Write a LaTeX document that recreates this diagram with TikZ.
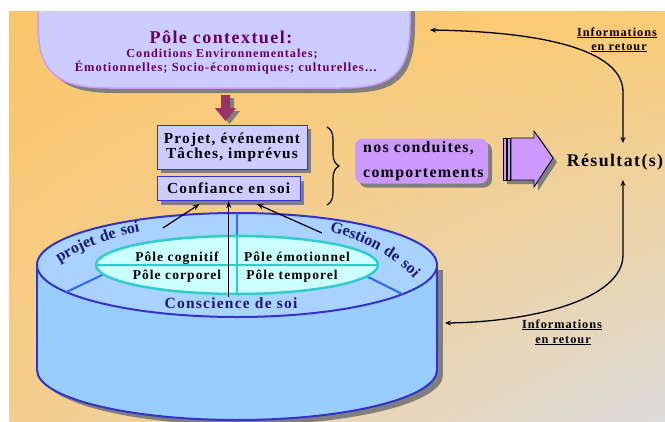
\documentclass[tikz,border=0pt]{standalone}
\usepackage{fontspec}
\setmainfont{Liberation Serif}[LetterSpace=8]
\usetikzlibrary{shapes.geometric,shadows,shadings,decorations.text,decorations.pathreplacing,arrows.meta,calc}
\definecolor{bgA}{HTML}{FBC66B}
\definecolor{bgB}{HTML}{FBCB74}
\definecolor{bgC}{HTML}{F5CD8C}
\definecolor{bgD}{HTML}{DCDCDC}
\definecolor{lav}{HTML}{CCCCFF}
\definecolor{lavborder}{HTML}{CC99FF}
\definecolor{plum}{HTML}{660066}
\definecolor{maroon}{HTML}{993366}
\definecolor{boxblue}{HTML}{3333CC}
\definecolor{violet}{HTML}{CC99FF}
\definecolor{shgray}{HTML}{7F7F7F}
\definecolor{cyltop}{HTML}{A9D2FF}
\definecolor{cylside}{HTML}{99CCFF}
\definecolor{ringblue}{HTML}{3366FF}
\definecolor{innerfill}{HTML}{CCFFFF}
\definecolor{turq}{HTML}{33CCCC}
\definecolor{navy}{HTML}{1A1A75}
\tikzset{
  box/.style={draw=boxblue, line width=1pt, fill=lav, inner sep=0pt, align=center,
    general shadow={fill=shgray, shadow xshift=4pt, shadow yshift=-4pt},
    font=\bfseries\fontsize{15.3}{15}\selectfont},
  poletext/.style={font=\bfseries\fontsize{13.5}{15}\selectfont, inner sep=0pt, anchor=base},
  arr/.style={line width=1.2pt, -{Stealth[length=7pt,width=5pt]}},
  fb/.style={line width=1.3pt, {Stealth[length=6pt,width=5pt]}-{Stealth[length=6pt,width=5pt]}},
  fblabel/.style={font=\bfseries\fontsize{12.3}{14}\selectfont, align=center, inner sep=0pt, anchor=base},
  navylabel/.style={text=navy, font=\bfseries\fontsize{15.5}{17}\selectfont, inner sep=0pt, anchor=base},
  plumtext/.style={text=plum, inner sep=0pt, anchor=base},
}
\begin{document}
\begin{tikzpicture}[x=1pt,y=-1pt]
\useasboundingbox (0,0) rectangle (665,421);
% background
\shade[upper left=bgA, upper right=bgB, lower left=bgC, lower right=bgD] (9,11) rectangle (665,421);

% pole contextuel shape with shadow
\begin{scope}
\clip (0,11) rectangle (665,421);
\fill[shgray] (43,0) -- (43,25) .. controls (43,80) and (65,93) .. (115,93) -- (345,93) .. controls (395,93) and (415,80) .. (415,25) -- (415,0) -- cycle;
\filldraw[fill=lav, draw=lavborder, line width=1.5pt] (38,0) -- (38,25) .. controls (38,75) and (60,88) .. (110,88) -- (340,88) .. controls (390,88) and (410,75) .. (410,25) -- (410,0) -- cycle;
\end{scope}
\node[plumtext, font=\bfseries\fontsize{18}{20}\selectfont] (pole1) at (221,43) {Pôle contextuel:};
\node[plumtext, font=\bfseries\fontsize{12.2}{14}\selectfont] (pole2) at (222,57) {Conditions Environnementales;};
\node[plumtext, font=\bfseries\fontsize{12.5}{14}\selectfont] (pole3) at (226,71.5) {Émotionnelles; Socio-économiques; culturelles…};

% down block arrow
\fill[shgray] (225,98) -- (234,98) -- (234,111) -- (240,111) -- (229.5,124) -- (219,111) -- (225,111) -- cycle;
\fill[maroon] (221,95) -- (230,95) -- (230,108) -- (236,108) -- (225.5,121) -- (215,108) -- (221,108) -- cycle;

% boxes
\node[box, minimum width=150pt, minimum height=44pt] (proj) at (232,147) {Projet, événement\\Tâches, imprévus};
\node[box, minimum width=143pt, minimum height=24pt] (conf) at (228.7,188.5) {Confiance en soi};

% brace
\coordinate (brtop) at (327,127);
\coordinate (brbot) at (327,205);
\draw[line width=1.2pt, decorate, decoration={brace, amplitude=12pt}] (brtop) -- (brbot);

% conduites
\node[draw=none, fill=violet, rounded corners=8pt, minimum width=133pt, minimum height=45pt, inner sep=0pt,
  general shadow={fill=shgray, shadow xshift=4pt, shadow yshift=-4pt}] (cond) at (421.5,161) {};
\node[anchor=base west, inner sep=0pt, font=\bfseries\fontsize{15.9}{17}\selectfont] (cond1) at (363,152) {nos conduites,};
\node[anchor=base west, inner sep=0pt, font=\bfseries\fontsize{15.9}{17}\selectfont] (cond2) at (363,177) {comportements};

% right block arrow
\fill[shgray] (507,142) -- (538,142) -- (538,135) -- (557,162) -- (538,191) -- (538,184) -- (507,184) -- cycle;
\filldraw[fill=violet, draw=black, line width=0.8pt] (503,138) rectangle (506,180);
\filldraw[fill=violet, draw=black, line width=0.8pt] (507,138) rectangle (510,180);
\filldraw[fill=violet, draw=black, line width=0.8pt] (511,138) -- (534,138) -- (534,131) -- (553,158) -- (534,187) -- (534,180) -- (511,180) -- cycle;

% resultat
\node[font=\bfseries\fontsize{17.8}{20}\selectfont, inner sep=0pt, anchor=base] (res) at (615,166.5) {Résultat(s)};

% feedback arrows
\coordinate (fbtop) at (430,30);
\coordinate (restop) at (623,143);
\coordinate (resbot) at (623,180);
\coordinate (fbbot) at (445,323);
\draw[fb] (fbtop) .. controls (560,32) and (623,55) .. (623,92) -- (restop);
\draw[fb] (resbot) -- (623,255) .. controls (623,300) and (530,322) .. (fbbot);
\node[fblabel] (lab1a) at (617,36) {\underline{Informations}};
\node[fblabel] (lab1b) at (619,50) {\underline{en retour}};
\node[fblabel] (lab2a) at (562,328) {\underline{Informations}};
\node[fblabel] (lab2b) at (563,343) {\underline{en retour}};

% cylinder shadow
\fill[shgray] (243,375) ellipse [x radius=200, y radius=50];
\fill[shgray] (43,270) rectangle (443,375);
% cylinder body
\filldraw[fill=cylside, draw=boxblue, line width=2pt] (237,370) ellipse [x radius=200, y radius=50];
\fill[cylside] (37,265) rectangle (437,370);
\draw[boxblue, line width=2pt] (37,265) -- (37,370) (437,265) -- (437,370);
\node[ellipse, draw=boxblue, fill=cyltop, line width=2pt, minimum width=400pt, minimum height=104pt, inner sep=0pt, outer sep=0pt] (top) at (237,265) {};
\node[ellipse, minimum width=282pt, minimum height=58pt, inner sep=0pt, outer sep=0pt] (innerpos) at (237,265) {};
\draw[ringblue, line width=2pt] (top.north) -- (innerpos.north);
\draw[ringblue, line width=2pt] (top.189) -- (innerpos.184);
\draw[ringblue, line width=2pt] (top.350) -- (innerpos.355);
\node[ellipse, draw=turq, fill=innerfill, line width=2.5pt, minimum width=282pt, minimum height=58pt, inner sep=0pt, outer sep=0pt] (inner) at (237,265) {};
\draw[turq, line width=2pt] (inner.west) -- (inner.east);
\draw[turq, line width=2pt] (inner.north) -- (inner.south);

\node[poletext] (cog) at (177,261) {Pôle cognitif};
\node[poletext] (emo) at (297,261) {Pôle émotionnel};
\node[poletext] (cor) at (177,279) {Pôle corporel};
\node[poletext] (tem) at (292,279) {Pôle temporel};

\node[navylabel] (consc) at (231,308) {Conscience de soi};
\path[decorate, decoration={text along path, text align=center,
  text={|\bfseries\color{navy}\fontsize{16}{18}\selectfont|projet de soi}}]
  (46,272) .. controls (75,250) and (110,236) .. (156,229);
\path[decorate, decoration={text along path, text align=center,
  text={|\bfseries\color{navy}\fontsize{16}{18}\selectfont|Gestion de soi}}]
  (316,228) .. controls (360,238) and (398,256) .. (423,289);

% arrows to confiance
\coordinate (projsoi) at (163,228);
\coordinate (gestsoi) at (322,233);
\draw[arr] (conf.south |- consc.north) -- (conf.south);
\draw[arr] (projsoi) -- ($(conf.south)+(-29,3)$);
\draw[arr] (gestsoi) -- ($(conf.south)+(28,3)$);
\end{tikzpicture}
\end{document}
